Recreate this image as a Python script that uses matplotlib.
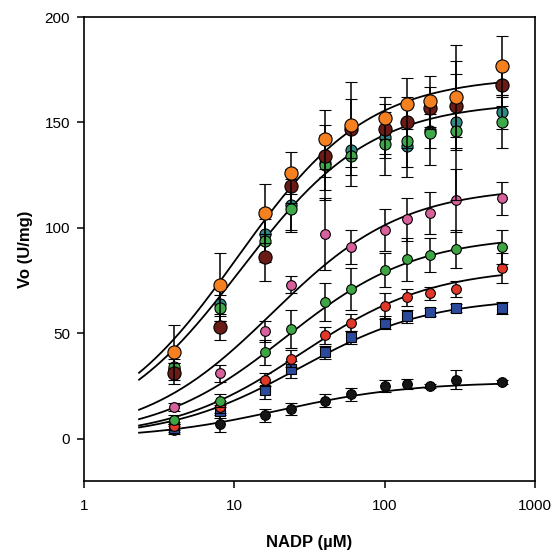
import numpy as np
import matplotlib
matplotlib.use('Agg')
import matplotlib.pyplot as plt

plt.rcParams['font.family'] = ['Liberation Sans', 'DejaVu Sans']

# NADP concentrations (uM)
nadp = [4, 8, 16, 24, 40, 60, 100, 140, 200, 300, 600]

# top group (large markers)
orange = [41, 73, 107, 126, 142, 149, 152, 159, 160, 162, 177]
orange_err = [13, 15, 14, 10, 14, 20, 10, 12, 12, 25, 14]
brown = [31, 53, 86, 120, 134, 147, 147, 150, 157, 158, 168]
brown_err = [5, 6, 11, 8, 10, 14, 12, 12, 10, 15, 10]
green_big = [34, 62, 94, 109, 130, 134, 140, 141, 145, 146, 150]
green_big_err = [4, 6, 10, 11, 12, 14, 15, 17, 15, 33, 12]
teal = [33, 64, 97, 111, 131, 137, 143, 139, 146, 150, 155]
teal_err = [3, 8, 12, 12, 18, 12, 10, 10, 8, 12, 8]

# lower group (small markers)
pink = [15, 31, 51, 73, 97, 91, 99, 104, 107, 113, 114]
pink_err = [2, 4, 5, 4, 17, 8, 10, 10, 10, 15, 8]
green_small = [9, 18, 41, 52, 65, 71, 80, 85, 87, 90, 91]
green_small_err = [2, 3, 6, 9, 9, 10, 8, 10, 8, 9, 8]
red = [6, 15, 28, 38, 49, 55, 63, 67, 69, 71, 81]
red_err = [2, 3, 3, 4, 4, 4, 6, 4, 3, 4, 7]
blue = [5, 13, 23, 33, 41, 48, 55, 58, 60, 62, 62]
blue_err = [2, 3, 4, 4, 3, 3, 3, 3, 2, 2, 3]
black = [4, 7, 11, 14, 18, 21, 25, 26, 25, 28, 27]
black_err = [2, 4, 3, 3, 3, 3, 3, 2.5, 1, 4.5, 1]

# Michaelis-Menten fit parameters (Vmax, Km)
fit_vmax = [172, 160, 119.5, 96.4, 81.2, 66.9, 26.9]
fit_km = [10.5, 11, 18, 22, 28, 27, 20]

fig = plt.figure(figsize=(5.55, 5.52), dpi=100)
ax = fig.add_axes([0.151, 0.129, 0.813, 0.840])

# fitted curves
xs = np.logspace(np.log10(2.33), np.log10(600), 200)
for vm, km in zip(fit_vmax, fit_km):
    ax.plot(xs, vm * xs / (km + xs), color='black', lw=1.3, zorder=2)

series = [
    (black, black_err, '#151515', 'o', 7.0),
    (blue, blue_err, '#2c4a9c', 's', 6.5),
    (red, red_err, '#e2382a', 'o', 7.0),
    (green_small, green_small_err, '#3da543', 'o', 7.0),
    (pink, pink_err, '#d8609b', 'o', 7.0),
    (teal, teal_err, '#2f8a86', 'o', 8.0),
    (green_big, green_big_err, '#3fa84a', 'o', 8.0),
    (brown, brown_err, '#6a1b16', 'o', 9.5),
    (orange, orange_err, '#f5801f', 'o', 9.5),
]
for i, (y, e, c, m, ms) in enumerate(series):
    ax.errorbar(nadp, y, yerr=e, fmt=m, color=c, ms=ms, mec='black', mew=0.8,
                ecolor='black', elinewidth=1.1, capsize=4, capthick=1.1,
                zorder=3 + i)

ax.set_xscale('log')
ax.set_xlim(1, 1000)
ax.set_ylim(-20, 200)
ax.set_xticks([1, 10, 100, 1000])
ax.set_xticklabels(['1', '10', '100', '1000'])
ax.xaxis.set_minor_locator(matplotlib.ticker.NullLocator())
ax.set_yticks([0, 50, 100, 150, 200])
ax.tick_params(direction='out', length=5, width=1.1, labelsize=11)
ax.tick_params(axis='x', pad=8)
ax.tick_params(axis='y', pad=5)
for s in ax.spines.values():
    s.set_linewidth(1.2)

ax.set_xlabel('NADP (\u00b5M)', fontsize=12, fontweight='bold', labelpad=16)
ax.set_ylabel('Vo (U/mg)', fontsize=12, fontweight='bold', labelpad=8)

fig.savefig('out.png', dpi=100)
